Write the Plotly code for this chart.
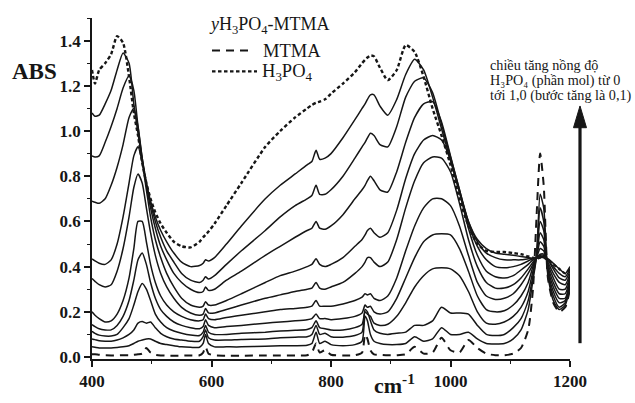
import plotly.graph_objects as go

# Wavenumber grid (cm-1) shared by all spectra
wavenumber = [400, 405, 412, 422, 432, 442, 452, 462, 470, 477,
              484, 491, 498, 506, 515, 525, 537, 550, 565, 580,
              586, 590, 595, 605, 625, 650, 690, 715, 740, 760,
              768, 775, 781, 790, 800, 820, 840, 852, 857, 861,
              866, 872, 882, 895, 910, 925, 940, 955, 970, 985,
              1000, 1015, 1030, 1045, 1060, 1075, 1090, 1105, 1118, 1130,
              1138, 1144, 1150, 1156, 1163, 1172, 1182, 1192, 1200]

# Pure H3PO4
abs_h3po4 = [1.27, 1.21, 1.27, 1.30, 1.34, 1.42, 1.39, 1.24, 1.08, 0.98,
             0.86, 0.77, 0.70, 0.64, 0.59, 0.55, 0.51, 0.49, 0.485, 0.51,
             0.53, 0.54, 0.555, 0.59, 0.67, 0.77, 0.93, 1.00, 1.06, 1.10,
             1.115, 1.125, 1.13, 1.14, 1.165, 1.21, 1.26, 1.30, 1.315, 1.325,
             1.334, 1.33, 1.28, 1.225, 1.27, 1.38, 1.35, 1.24, 1.10, 0.98,
             0.85, 0.70, 0.58, 0.50, 0.47, 0.465, 0.465, 0.46, 0.455, 0.445,
             0.44, 0.435, 0.44, 0.44, 0.43, 0.41, 0.39, 0.37, 0.39]

# Pure MTMA
abs_mtma = [0.012, 0.012, 0.01, 0.008, 0.007, 0.007, 0.008, 0.008, 0.01, 0.012,
            0.015, 0.04, 0.02, 0.01, 0.007, 0.006, 0.006, 0.006, 0.007, 0.008,
            0.02, 0.045, 0.015, 0.007, 0.006, 0.006, 0.007, 0.007, 0.007, 0.008,
            0.02, 0.06, 0.02, 0.03, 0.01, 0.007, 0.008, 0.02, 0.10, 0.08,
            0.03, 0.012, 0.01, 0.008, 0.008, 0.012, 0.045, 0.015, 0.02, 0.085,
            0.03, 0.02, 0.075, 0.04, 0.015, 0.008, 0.008, 0.015, 0.04, 0.12,
            0.30, 0.62, 0.90, 0.76, 0.35, 0.24, 0.20, 0.22, 0.30]

# Mixtures, from the richest in H3PO4 to the poorest
abs_mix_1 = [1.08, 1.065, 1.07, 1.12, 1.18, 1.27, 1.345, 1.30, 1.12, 0.99,
             0.87, 0.77, 0.69, 0.62, 0.56, 0.51, 0.46, 0.42, 0.40, 0.405,
             0.415, 0.43, 0.425, 0.44, 0.50, 0.58, 0.70, 0.76, 0.81, 0.85,
             0.865, 0.915, 0.875, 0.88, 0.90, 0.97, 1.05, 1.10, 1.12, 1.14,
             1.16, 1.16, 1.11, 1.07, 1.14, 1.25, 1.317, 1.27, 1.15, 1.01,
             0.87, 0.73, 0.60, 0.52, 0.48, 0.46, 0.455, 0.45, 0.445, 0.44,
             0.437, 0.437, 0.44, 0.44, 0.435, 0.415, 0.39, 0.37, 0.40]
abs_mix_2 = [0.89, 0.885, 0.89, 0.95, 1.02, 1.10, 1.19, 1.244, 1.18, 1.02,
             0.88, 0.77, 0.68, 0.60, 0.53, 0.47, 0.42, 0.37, 0.34, 0.33,
             0.34, 0.355, 0.345, 0.36, 0.41, 0.47, 0.56, 0.62, 0.67, 0.70,
             0.715, 0.76, 0.72, 0.72, 0.74, 0.80, 0.88, 0.93, 0.95, 0.97,
             0.99, 0.98, 0.94, 0.93, 1.02, 1.15, 1.22, 1.235, 1.17, 1.03,
             0.885, 0.74, 0.60, 0.51, 0.46, 0.44, 0.43, 0.43, 0.43, 0.435,
             0.437, 0.44, 0.445, 0.445, 0.43, 0.40, 0.37, 0.355, 0.39]
abs_mix_3 = [0.69, 0.685, 0.68, 0.70, 0.76, 0.84, 0.94, 1.06, 1.10, 1.02,
             0.88, 0.76, 0.66, 0.57, 0.49, 0.43, 0.37, 0.33, 0.30, 0.285,
             0.29, 0.31, 0.295, 0.30, 0.34, 0.38, 0.45, 0.49, 0.53, 0.56,
             0.57, 0.60, 0.57, 0.565, 0.58, 0.63, 0.70, 0.74, 0.76, 0.78,
             0.80, 0.78, 0.74, 0.73, 0.82, 0.95, 1.06, 1.12, 1.13, 1.04,
             0.89, 0.74, 0.59, 0.49, 0.43, 0.40, 0.395, 0.40, 0.41, 0.425,
             0.435, 0.44, 0.45, 0.45, 0.43, 0.39, 0.35, 0.34, 0.38]
abs_mix_4 = [0.434, 0.425, 0.415, 0.41, 0.43, 0.50, 0.62, 0.77, 0.89, 0.93,
             0.86, 0.74, 0.62, 0.52, 0.44, 0.37, 0.31, 0.26, 0.23, 0.22,
             0.225, 0.245, 0.23, 0.23, 0.25, 0.28, 0.33, 0.36, 0.38, 0.40,
             0.41, 0.435, 0.41, 0.40, 0.41, 0.44, 0.49, 0.52, 0.54, 0.56,
             0.57, 0.55, 0.53, 0.55, 0.65, 0.79, 0.90, 0.96, 0.98, 0.96,
             0.87, 0.73, 0.57, 0.45, 0.38, 0.355, 0.35, 0.36, 0.385, 0.41,
             0.43, 0.44, 0.455, 0.455, 0.42, 0.37, 0.33, 0.32, 0.37]
abs_mix_5 = [0.347, 0.335, 0.32, 0.31, 0.32, 0.38, 0.48, 0.62, 0.75, 0.81,
             0.77, 0.66, 0.55, 0.45, 0.37, 0.31, 0.26, 0.22, 0.195, 0.185,
             0.19, 0.215, 0.195, 0.195, 0.21, 0.23, 0.26, 0.275, 0.29, 0.30,
             0.305, 0.33, 0.305, 0.30, 0.31, 0.33, 0.37, 0.40, 0.42, 0.44,
             0.44, 0.42, 0.40, 0.42, 0.52, 0.66, 0.78, 0.86, 0.885, 0.88,
             0.82, 0.68, 0.52, 0.40, 0.33, 0.305, 0.305, 0.32, 0.35, 0.39,
             0.42, 0.44, 0.48, 0.47, 0.41, 0.35, 0.30, 0.30, 0.36]
abs_mix_6 = [0.20, 0.185, 0.17, 0.155, 0.16, 0.19, 0.25, 0.35, 0.48, 0.60,
             0.60, 0.51, 0.41, 0.33, 0.27, 0.23, 0.20, 0.18, 0.165, 0.16,
             0.165, 0.19, 0.17, 0.165, 0.175, 0.185, 0.20, 0.21, 0.215, 0.22,
             0.225, 0.25, 0.225, 0.225, 0.225, 0.235, 0.25, 0.265, 0.28, 0.275,
             0.28, 0.26, 0.25, 0.27, 0.35, 0.47, 0.58, 0.66, 0.70, 0.70,
             0.67, 0.58, 0.45, 0.33, 0.27, 0.255, 0.26, 0.28, 0.32, 0.37,
             0.41, 0.445, 0.51, 0.49, 0.40, 0.33, 0.28, 0.28, 0.35]
abs_mix_7 = [0.144, 0.135, 0.125, 0.12, 0.12, 0.14, 0.18, 0.25, 0.34, 0.43,
             0.46, 0.41, 0.33, 0.26, 0.21, 0.18, 0.155, 0.14, 0.13, 0.125,
             0.135, 0.165, 0.14, 0.13, 0.135, 0.14, 0.15, 0.155, 0.16, 0.165,
             0.17, 0.19, 0.17, 0.17, 0.165, 0.17, 0.18, 0.195, 0.23, 0.22,
             0.225, 0.20, 0.19, 0.20, 0.26, 0.35, 0.44, 0.51, 0.54, 0.545,
             0.54, 0.48, 0.38, 0.27, 0.21, 0.20, 0.205, 0.23, 0.27, 0.33,
             0.40, 0.445, 0.55, 0.52, 0.39, 0.31, 0.26, 0.26, 0.34]
abs_mix_8 = [0.114, 0.105, 0.097, 0.093, 0.093, 0.10, 0.13, 0.17, 0.23, 0.29,
             0.325, 0.30, 0.25, 0.19, 0.155, 0.13, 0.115, 0.105, 0.097, 0.095,
             0.11, 0.14, 0.11, 0.10, 0.10, 0.105, 0.11, 0.115, 0.118, 0.122,
             0.13, 0.16, 0.13, 0.125, 0.12, 0.12, 0.13, 0.145, 0.20, 0.19,
             0.18, 0.15, 0.14, 0.145, 0.18, 0.24, 0.31, 0.36, 0.39, 0.395,
             0.39, 0.36, 0.29, 0.20, 0.15, 0.145, 0.155, 0.18, 0.22, 0.29,
             0.38, 0.445, 0.60, 0.56, 0.38, 0.29, 0.24, 0.25, 0.33]
abs_mix_9 = [0.08, 0.077, 0.072, 0.07, 0.07, 0.075, 0.085, 0.10, 0.12, 0.15,
             0.157, 0.15, 0.155, 0.13, 0.105, 0.09, 0.08, 0.075, 0.07, 0.07,
             0.09, 0.12, 0.085, 0.075, 0.075, 0.078, 0.08, 0.085, 0.088, 0.09,
             0.10, 0.14, 0.10, 0.105, 0.09, 0.088, 0.095, 0.11, 0.21, 0.20,
             0.16, 0.12, 0.105, 0.10, 0.105, 0.11, 0.14, 0.14, 0.16, 0.22,
             0.195, 0.195, 0.19, 0.14, 0.10, 0.095, 0.10, 0.13, 0.17, 0.25,
             0.36, 0.445, 0.66, 0.60, 0.37, 0.27, 0.22, 0.24, 0.32]
abs_mix_10 = [0.045, 0.043, 0.04, 0.04, 0.04, 0.042, 0.045, 0.05, 0.06, 0.07,
              0.075, 0.08, 0.08, 0.07, 0.06, 0.055, 0.05, 0.045, 0.043, 0.043,
              0.06, 0.10, 0.06, 0.045, 0.045, 0.045, 0.048, 0.05, 0.05, 0.052,
              0.06, 0.11, 0.06, 0.07, 0.055, 0.05, 0.055, 0.07, 0.18, 0.16,
              0.10, 0.07, 0.06, 0.055, 0.055, 0.06, 0.09, 0.07, 0.08, 0.13,
              0.10, 0.10, 0.11, 0.08, 0.06, 0.058, 0.06, 0.08, 0.12, 0.21,
              0.34, 0.445, 0.72, 0.66, 0.36, 0.25, 0.21, 0.23, 0.31]

x_ticks = [400, 600, 800, 1000, 1200]
x_minor = [500, 700, 900, 1100]
y_ticks = [0.0, 0.2, 0.4, 0.6, 0.8, 1.0, 1.2, 1.4]
y_tick_text = ["0.0", "0.2", "0.4", "0.6", "0.8", "1.0", "1.2", "1.4"]
y_minor = [0.1, 0.3, 0.5, 0.7, 0.9, 1.1, 1.3, 1.5]

mixtures = [abs_mix_1, abs_mix_2, abs_mix_3, abs_mix_4, abs_mix_5,
            abs_mix_6, abs_mix_7, abs_mix_8, abs_mix_9, abs_mix_10]

for series in mixtures + [abs_h3po4, abs_mtma]:
    if len(series) != len(wavenumber):
        raise ValueError("series length mismatch: %d" % len(series))

INK = "#161616"
SERIF = "Liberation Serif, Times New Roman, Times, DejaVu Serif, serif"

fig = go.Figure()
fig.add_trace(go.Scatter(x=wavenumber, y=abs_mtma, mode="lines",
                         line=dict(color=INK, width=2, dash="8px,6px",
                                   shape="spline", smoothing=0.6)))
for series in mixtures:
    fig.add_trace(go.Scatter(x=wavenumber, y=series, mode="lines",
                             line=dict(color=INK, width=1.5,
                                       shape="spline", smoothing=0.6)))
fig.add_trace(go.Scatter(x=wavenumber, y=abs_h3po4, mode="lines",
                         line=dict(color=INK, width=2.4, dash="3.5px,2.5px",
                                   shape="spline", smoothing=0.6)))

W, H = 635, 403
ML, MR, MT, MB = 92, 65, 18, 40
PW, PH = W - ML - MR, H - MT - MB


def px(x):
    return (x - ML) / PW


def py(y):
    return (H - MB - y) / PH


fig.update_layout(
    width=W, height=H,
    margin=dict(l=ML, r=MR, t=MT, b=MB),
    paper_bgcolor="white", plot_bgcolor="white",
    showlegend=False,
    font=dict(family=SERIF, color=INK),
)
fig.update_xaxes(
    range=[400, 1200], tickvals=x_ticks, ticks="outside", ticklen=6, tickwidth=1.5,
    tickcolor=INK, showline=True, linewidth=1.5, linecolor=INK,
    showgrid=False, zeroline=False,
    minor=dict(tickvals=x_minor, ticks="outside", ticklen=3, tickwidth=1.2, tickcolor=INK),
    tickfont=dict(family=SERIF, size=17, color=INK, weight="bold"),
)
fig.update_yaxes(
    range=[-0.0087, 1.5], tickvals=y_ticks, ticktext=y_tick_text, ticks="outside",
    ticklen=6, tickwidth=1.5, tickcolor=INK, showline=True, linewidth=1.5,
    linecolor=INK, showgrid=False, zeroline=False,
    minor=dict(tickvals=y_minor, ticks="outside", ticklen=3, tickwidth=1.2, tickcolor=INK),
    tickfont=dict(family=SERIF, size=17, color=INK, weight="bold"),
)

note_lines = ["chiều tăng nồng độ", "H₃PO₄ (phần mol) từ 0", "tới 1,0 (bước tăng là 0,1)"]
note_rows = [66, 81, 96]

annotations = [
    dict(text="<b>ABS</b>", x=px(34), y=py(72), font=dict(family=SERIF, size=23, color=INK),
         xanchor="center", yanchor="middle"),
    dict(text="<b>cm<sup>-1</sup></b>", x=px(394), y=py(388), font=dict(family=SERIF, size=22, color=INK),
         xanchor="center", yanchor="middle"),
    dict(text="<i>y</i>H<sub>3</sub>PO<sub>4</sub>-MTMA", x=px(207), y=py(26),
         font=dict(family=SERIF, size=18, color=INK), xanchor="left", yanchor="middle"),
    dict(text="MTMA", x=px(261), y=py(51),
         font=dict(family=SERIF, size=18.5, color=INK), xanchor="left", yanchor="middle"),
    dict(text="H<sub>3</sub>PO<sub>4</sub>", x=px(260), y=py(73),
         font=dict(family=SERIF, size=18.5, color=INK), xanchor="left", yanchor="middle"),
]
for line, row in zip(note_lines, note_rows):
    annotations.append(dict(text=line, x=px(488), y=py(row),
                            font=dict(family=SERIF, size=14.2, color=INK),
                            xanchor="left", yanchor="middle", align="left"))
for a in annotations:
    a.update(xref="paper", yref="paper", showarrow=False)
fig.update_layout(annotations=annotations)

shapes = [
    # legend keys
    dict(type="line", x0=px(212), x1=px(253), y0=py(51), y1=py(51),
         line=dict(color=INK, width=2, dash="8px,6px")),
    dict(type="line", x0=px(212), x1=px(257), y0=py(72), y1=py(72),
         line=dict(color=INK, width=2.2, dash="3.5px,2.5px")),
    # concentration arrow
    dict(type="line", x0=px(580), x1=px(580), y0=py(347), y1=py(126),
         line=dict(color=INK, width=3.2)),
    dict(type="path",
         path="M %f,%f L %f,%f L %f,%f Z" % (px(573.5), py(129), px(586.5), py(129), px(580), py(107)),
         fillcolor=INK, line=dict(color=INK, width=1)),
]
for s in shapes:
    s.update(xref="paper", yref="paper")
fig.update_layout(shapes=shapes)

fig.write_html("out.html")
